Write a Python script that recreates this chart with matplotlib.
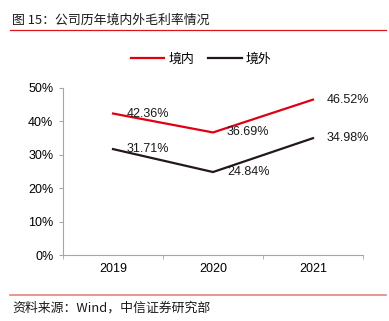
import matplotlib.pyplot as plt
from matplotlib.lines import Line2D

plt.rcParams['font.family'] = ['Liberation Sans', 'Noto Sans CJK SC']

# 数据
years = ['2019', '2020', '2021']
domestic = [42.36, 36.69, 46.52]
overseas = [31.71, 24.84, 34.98]
y_ticks = [0, 10, 20, 30, 40, 50]

red = '#E00012'
dark = '#231815'
axis_gray = '#A6A6A6'

fig = plt.figure(figsize=(3.89, 3.21), dpi=100)
W, H = 389, 321
ax = fig.add_axes([63 / W, 1 - 255 / H, 300 / W, 167 / H])

x = list(range(len(years)))
ax.plot(x, domestic, color=red, lw=1.6, solid_joinstyle='miter')
ax.plot(x, overseas, color=dark, lw=1.6, solid_joinstyle='miter')

for xi, v in zip(x, domestic):
    ax.annotate(f'{v:.2f}%', (xi, v), xytext=(10, 0), textcoords='offset points',
                ha='left', va='center', fontsize=9, color='#1a1a1a')
for xi, v in zip(x, overseas):
    ax.annotate(f'{v:.2f}%', (xi, v), xytext=(10, 0), textcoords='offset points',
                ha='left', va='center', fontsize=9, color='#1a1a1a')

ax.set_xlim(-0.5, 2.5)
ax.set_ylim(0, 50)
ax.set_yticks(y_ticks)
ax.set_yticklabels([f'{t}%' for t in y_ticks], fontsize=9)
ax.set_xticks(x)
ax.set_xticklabels(years, fontsize=9)
ax.set_xticks([-0.5, 0.5, 1.5, 2.5], minor=True)
ax.tick_params(axis='x', which='major', length=0, pad=6)
ax.tick_params(axis='x', which='minor', length=3, color=axis_gray, direction='out')
ax.tick_params(axis='y', length=3, color=axis_gray, pad=4)
for s in ['top', 'right']:
    ax.spines[s].set_visible(False)
for s in ['left', 'bottom']:
    ax.spines[s].set_color(axis_gray)
    ax.spines[s].set_linewidth(0.8)

# 图例
handles = [Line2D([], [], color=red, lw=1.6), Line2D([], [], color=dark, lw=1.6)]
fig.legend(handles, ['境内', '境外'], loc='center', bbox_to_anchor=(201 / W, 1 - 59 / H),
           ncol=2, frameon=False, handlelength=2.6, handletextpad=0.3,
           columnspacing=1.1, prop={'family': 'Noto Sans CJK SC', 'size': 9.3})

# 标题与来源
fig.text(12 / W, 1 - 20 / H, '图 15：公司历年境内外毛利率情况', fontsize=9.3,
         family='Noto Sans CJK SC', ha='left', va='center', color='#1a1a1a')
fig.add_artist(Line2D([10 / W, 386 / W], [1 - 30 / H] * 2, color='#D9161C', lw=0.9))
fig.add_artist(Line2D([10 / W, 386 / W], [1 - 295 / H] * 2, color='#E98080', lw=1.2))
fig.text(12 / W, 1 - 308 / H, '资料来源：Wind，中信证券研究部', fontsize=9.3,
         family=['Noto Sans CJK SC'], ha='left', va='center', color='#1a1a1a')

fig.savefig('out.png', dpi=100)
